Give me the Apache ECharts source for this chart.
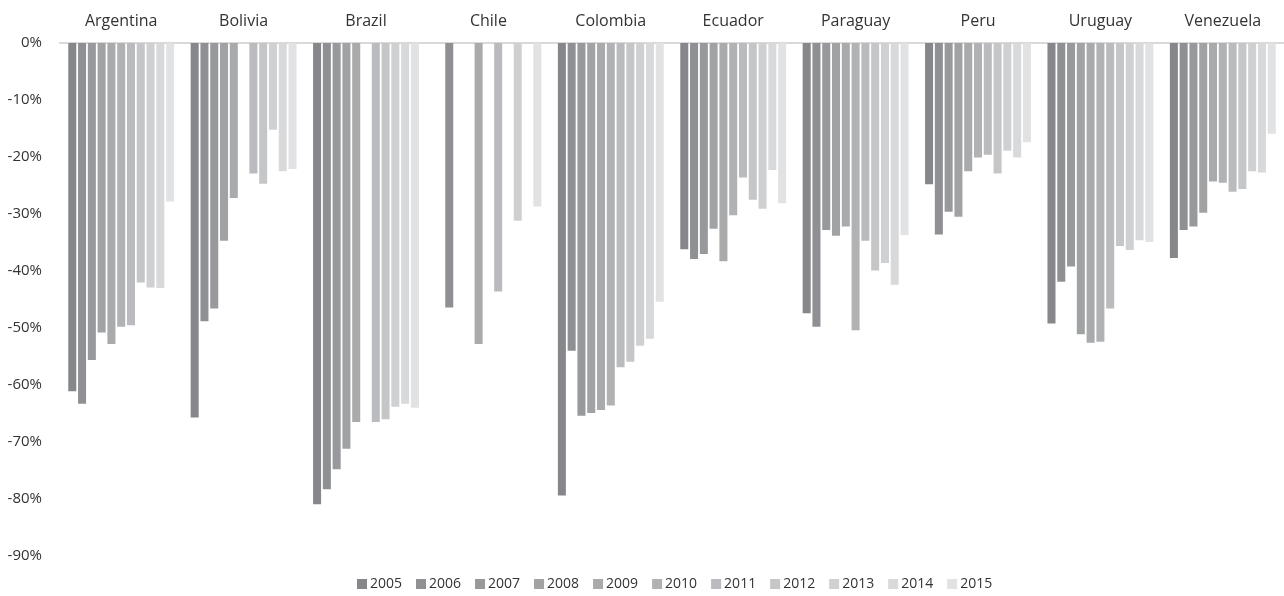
<!DOCTYPE html>
<html>
<head>
<meta charset="utf-8">
<script src="https://cdn.jsdelivr.net/npm/echarts@6/dist/echarts.min.js"></script>
<style>
  html, body { margin: 0; padding: 0; background: #fff; }
  #chart { width: 1284px; height: 596px; }
</style>
</head>
<body>
<div id="chart"></div>
<script>
// Countries along the top axis
const countries = ['Argentina', 'Bolivia', 'Brazil', 'Chile', 'Colombia', 'Ecuador', 'Paraguay', 'Peru', 'Uruguay', 'Venezuela'];

// One list per year, one value per country (share, negative); null = no data
const years = ['2005', '2006', '2007', '2008', '2009', '2010', '2011', '2012', '2013', '2014', '2015'];
const y2005 = [-0.611, -0.657, -0.809, null, -0.794, -0.362, -0.474, -0.248, -0.492, -0.377];
const y2006 = [-0.633, -0.488, -0.783, -0.464, -0.540, -0.379, -0.498, -0.336, -0.419, -0.328];
const y2007 = [-0.556, -0.466, -0.748, null, -0.654, -0.370, -0.328, -0.296, -0.392, -0.322];
const y2008 = [-0.508, -0.347, -0.712, null, -0.649, -0.326, -0.338, -0.305, -0.511, -0.298];
const y2009 = [-0.528, -0.272, -0.665, -0.528, -0.644, -0.383, -0.322, -0.225, -0.526, -0.243];
const y2010 = [-0.498, null, null, null, -0.636, -0.302, -0.504, -0.201, -0.524, -0.245];
const y2011 = [-0.495, -0.229, -0.665, -0.436, -0.569, -0.236, -0.347, -0.196, -0.466, -0.261];
const y2012 = [-0.420, -0.247, -0.660, null, -0.559, -0.275, -0.399, -0.229, -0.356, -0.256];
const y2013 = [-0.429, -0.152, -0.638, -0.312, -0.531, -0.291, -0.386, -0.189, -0.363, -0.225];
const y2014 = [-0.430, -0.225, -0.633, null, -0.519, -0.223, -0.424, -0.201, -0.346, -0.227];
const y2015 = [-0.278, -0.221, -0.640, -0.287, -0.454, -0.281, -0.337, -0.174, -0.349, -0.159];
const yearValues = [y2005, y2006, y2007, y2008, y2009, y2010, y2011, y2012, y2013, y2014, y2015];

// Grey ramp, darkest for the earliest year
const palette = ['#86878b', '#8f9094', '#98999c', '#a0a2a4', '#a8aaac', '#b1b2b4',
                 '#babbbe', '#c5c6c8', '#cfd0d2', '#d8d9db', '#e1e2e4'];

const FONT = 'Open Sans';
const TEXT = '#333333';

const series = years.map((yr, i) => ({
  name: yr,
  type: 'bar',
  data: yearValues[i],
  barGap: '22%',
  barCategoryGap: '13.5%',
  itemStyle: { color: palette[i] },
  emphasis: { disabled: true }
}));

const chart = echarts.init(document.getElementById('chart'), null, { renderer: 'canvas' });
chart.setOption({
  animation: false,
  color: palette,
  grid: { left: 60, right: 0, top: 43, bottom: 40, containLabel: false },
  xAxis: {
    type: 'category',
    data: countries,
    position: 'top',
    axisLine: { show: true, lineStyle: { color: '#d9d9d9', width: 2 } },
    axisTick: { show: false },
    axisLabel: { color: TEXT, fontFamily: FONT, fontSize: 16, margin: 14 }
  },
  yAxis: {
    type: 'value',
    min: -0.9,
    max: 0,
    interval: 0.1,
    axisLine: { show: false },
    axisTick: { show: false },
    splitLine: { show: false },
    axisLabel: {
      color: TEXT, fontFamily: FONT, fontSize: 15, margin: 18,
      formatter: v => Math.round(v * 100) + '%'
    }
  },
  legend: {
    bottom: 0,
    left: 352,
    itemWidth: 10,
    itemHeight: 10,
    itemGap: 14,
    icon: 'rect',
    textStyle: { color: TEXT, fontFamily: FONT, fontSize: 14, padding: [0, 0, 0, -2] },
    data: years
  },
  series: series
});
</script>
</body>
</html>
